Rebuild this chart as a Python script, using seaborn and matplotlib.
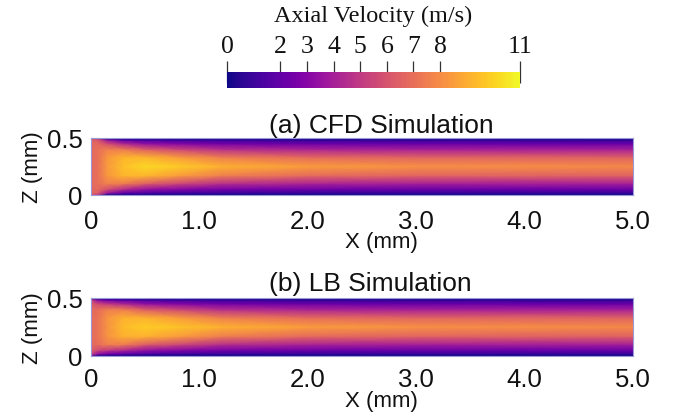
import numpy as np
import matplotlib
matplotlib.use("Agg")
import matplotlib.pyplot as plt
import seaborn as sns

sns.set_theme(style="white")
plt.rcParams['font.family'] = ['Liberation Sans', 'DejaVu Sans']

# ---- data ----
# axial stations (mm)
x_stations = [0.0, 0.06, 0.15, 0.3, 0.5, 0.8, 1.2, 2.0, 3.0, 5.0]
# half-channel heights from wall to centreline (mm); channel is symmetric
z_half = [0.0, 0.02, 0.05, 0.10, 0.17, 0.25]

# velocity (m/s) from wall to centreline, one row per axial station
cfd_half = [
    [6.0, 6.5, 6.7, 6.8, 6.8, 6.8],
    [5.0, 6.3, 6.8, 7.0, 7.0, 7.0],
    [0.0, 3.8, 5.8, 7.6, 8.3, 8.4],
    [0.0, 2.0, 4.4, 7.4, 9.2, 9.5],
    [0.0, 1.5, 3.4, 6.4, 9.2, 10.1],
    [0.0, 1.2, 3.0, 5.5, 8.5, 9.8],
    [0.0, 1.0, 2.5, 4.6, 7.5, 9.1],
    [0.0, 0.9, 2.3, 4.2, 6.8, 8.5],
    [0.0, 0.9, 2.2, 4.0, 6.6, 8.1],
    [0.0, 0.9, 2.2, 4.0, 6.5, 7.9],
]
lb_half = [
    [2.5, 5.5, 6.4, 6.8, 6.9, 6.9],
    [0.0, 3.5, 5.6, 6.9, 7.1, 7.1],
    [0.0, 2.6, 5.0, 7.6, 8.2, 8.2],
    [0.0, 2.0, 4.3, 7.5, 9.1, 9.4],
    [0.0, 1.5, 3.4, 6.4, 9.1, 9.8],
    [0.0, 1.2, 3.0, 5.6, 8.5, 9.6],
    [0.0, 1.0, 2.5, 4.6, 7.5, 9.1],
    [0.0, 0.9, 2.3, 4.2, 6.8, 8.5],
    [0.0, 0.9, 2.2, 4.0, 6.6, 8.1],
    [0.0, 0.9, 2.2, 4.0, 6.5, 7.9],
]

titles = ["(a) CFD Simulation", "(b) LB Simulation"]
x_ticks = [0, 1, 2, 3, 4, 5]
x_ticklabels = ["0", "1.0", "2.0", "3.0", "4.0", "5.0"]
z_ticks = [0, 0.5]
z_ticklabels = ["0", "0.5"]
cbar_ticks = [0, 2, 3, 4, 5, 6, 7, 8, 11]
vmin, vmax = 0, 11

# ---- build full symmetric fields ----
zh = np.array(z_half)
z_full = np.concatenate([zh, 0.5 - zh[-2::-1]])


def full_field(half):
    h = np.array(half)
    return np.concatenate([h, h[:, -2::-1]], axis=1).T  # shape (nz, nx)


fields = [full_field(cfd_half), full_field(lb_half)]
X, Z = np.meshgrid(np.array(x_stations), z_full)

W, H = 687, 414
fig = plt.figure(figsize=(W / 100, H / 100), dpi=100)
cmap = sns.color_palette("plasma", as_cmap=True)


def fpos(l, t, r, b):
    return [l / W, 1 - b / H, (r - l) / W, (b - t) / H]


axes = [fig.add_axes(fpos(91, 139, 633, 196)), fig.add_axes(fpos(91, 299, 633, 357))]
title_y = [133, 291]
xlabel_y = [248, 407]
tick_pad = [10, 8]

mesh = None
for ax, U, title, ty, xy, tp in zip(axes, fields, titles, title_y, xlabel_y, tick_pad):
    mesh = ax.pcolormesh(X, Z, U, shading="gouraud", cmap=cmap, vmin=vmin, vmax=vmax)
    ax.set_xlim(0, 5)
    ax.set_ylim(0, 0.5)
    ax.set_xticks(x_ticks)
    ax.set_xticklabels(x_ticklabels, fontsize=18.5)
    ax.set_yticks(z_ticks)
    ax.set_yticklabels(z_ticklabels, fontsize=18.5)
    ax.tick_params(axis="x", direction="in", length=4, width=1, color="#333333",
                   pad=tp, labelcolor="#111111")
    ax.tick_params(axis="y", length=0, pad=6, labelcolor="#111111")
    for s in ax.spines.values():
        s.set_color("#9a9ad8")
        s.set_linewidth(0.8)
    ax.set_ylabel("Z (mm)", fontsize=16, labelpad=3, color="#111111")
    fig.text(269 / W, 1 - ty / H, title, fontsize=19, ha="left", va="baseline",
             color="#111111")
    fig.text(345 / W, 1 - xy / H, "X (mm)", fontsize=16, ha="left", va="baseline",
             color="#111111")

# ---- colorbar ----
cax = fig.add_axes(fpos(227, 73, 520, 89))
cb = fig.colorbar(mesh, cax=cax, orientation="horizontal", ticks=cbar_ticks)
cb.outline.set_visible(False)
cax.xaxis.set_ticks_position("top")
cax.xaxis.set_label_position("top")
cax.tick_params(axis="x", direction="inout", length=16, width=0.9, color="#333333",
                pad=3, labelsize=18.5)
for lab in cax.get_xticklabels():
    lab.set_family(["Liberation Serif", "DejaVu Serif"])
    lab.set_color("#111111")
fig.text(373 / W, 1 - 22 / H, "Axial Velocity (m/s)", fontsize=17.5,
         family=["Liberation Serif", "DejaVu Serif"], ha="center", va="baseline",
         color="#111111")

fig.savefig("out.png", dpi=100)
